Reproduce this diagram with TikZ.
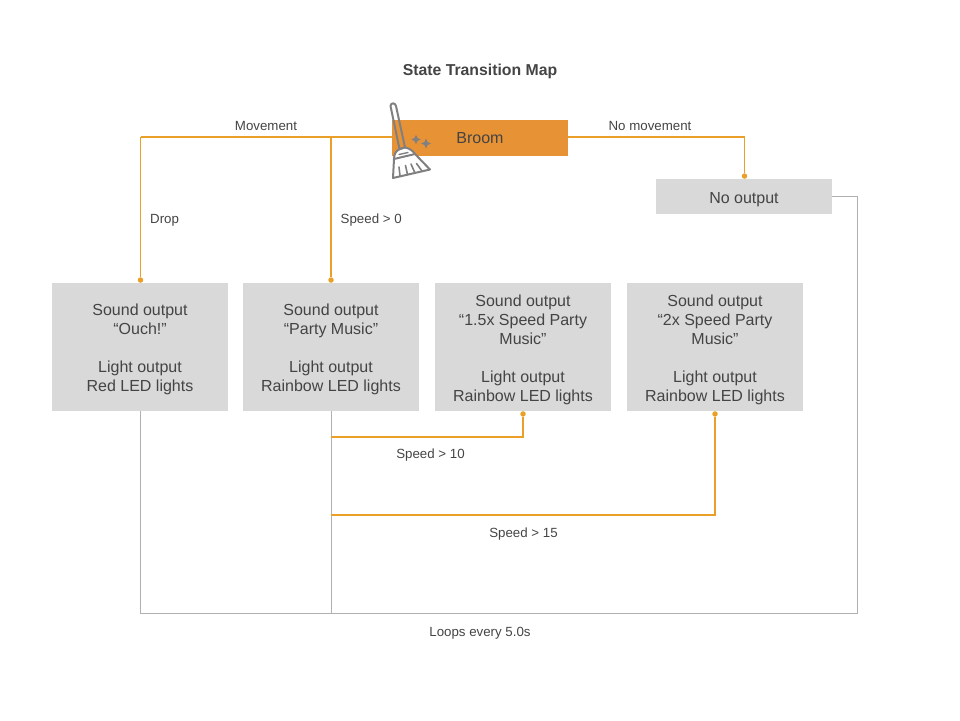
\documentclass[tikz,border=0pt]{standalone}
\usepackage{fontspec}
\setmainfont{Liberation Sans}
\usetikzlibrary{arrows.meta,calc}
\definecolor{orangeline}{HTML}{EAA028}
\definecolor{orangebox}{HTML}{E89236}
\definecolor{boxgray}{HTML}{D9D9D9}
\definecolor{linegray}{HTML}{B0B0B0}
\definecolor{textgray}{HTML}{444444}
\definecolor{broomgray}{HTML}{808080}
\newcommand{\topfix}{\rule{0pt}{16.5pt}}
\tikzset{
  statebox/.style={fill=boxgray,draw=none,minimum width=176pt,minimum height=128pt,inner sep=0pt,
    align=center,text=textgray,font=\fontsize{16}{19}\selectfont},
  smallbox/.style={statebox,minimum height=35pt},
  lbl/.style={text=textgray,font=\fontsize{13.3}{16}\selectfont,inner sep=0pt},
  orangeconn/.style={draw=orangeline,line width=1.2pt},
  grayconn/.style={draw=linegray,line width=1pt},
  dot/.style={-{Circle[length=5.5pt,width=5.5pt,fill=orangeline,line width=0pt]}},
  broomline/.style={draw=broomgray,line width=2pt,line join=round,line cap=round}
}
\begin{document}
\begin{tikzpicture}[x=1pt,y=-1pt]
\useasboundingbox (0,0) rectangle (960,720);
\node[lbl,font=\fontsize{15.8}{19}\bfseries\selectfont] (title) at (480,71) {State Transition Map};
\node[statebox,minimum height=36pt,fill=orangebox] (broom) at (480,138) {Broom};
\node[smallbox] (none) at (744,196.5) {\topfix No output};
\node[statebox] (a) at (140,347) {\topfix Sound output\\“Ouch!”\\[19pt]Light output\\Red LED lights};
\node[statebox] (b) at (331,347) {\topfix Sound output\\“Party Music”\\[19pt]Light output\\Rainbow LED lights};
\node[statebox] (c) at (523,347) {\topfix Sound output\\“1.5x Speed Party\\Music”\\[19pt]Light output\\Rainbow LED lights};
\node[statebox] (d) at (715,347) {\topfix Sound output\\“2x Speed Party\\Music”\\[19pt]Light output\\Rainbow LED lights};
\coordinate (tl) at (140.5,137);
\coordinate (tm) at (331,137);
\coordinate (tr) at (744.5,137);
\coordinate (bl) at (140.5,613.5);
\coordinate (bm) at (331,613.5);
\coordinate (br) at (857.5,613.5);
\coordinate (tg) at (857.5,196.5);
\coordinate (s1) at (331,437);
\coordinate (s2) at (331,515);
% gray loop
\draw[grayconn] (tl |- a.south) -- (bl) -- (br) -- (tg) -- (none.east |- tg);
\draw[grayconn] (b.south) -- (bm);
% orange
\draw[orangeconn] (broom.west |- tl) -- (tl);
\draw[orangeconn,dot] (tl) -- (tl |- a.north);
\draw[orangeconn,dot] (tm) -- (b.north);
\draw[orangeconn,dot] (broom.east |- tr) -- (tr) -- (tr |- none.north);
\draw[orangeconn,dot] (s1) -- (s1 -| c.south) -- (c.south);
\draw[orangeconn,dot] (s2) -- (s2 -| d.south) -- (d.south);
% labels
\node[lbl] (l1) at (266,126.3) {Movement};
\node[lbl] (l2) at (650,126.3) {No movement};
\node[lbl,anchor=west] (l3) at (150,220) {Drop};
\node[lbl,anchor=west] (l4) at (340.5,220) {Speed > 0};
\node[lbl] (l5) at (430.5,455.5) {Speed > 10};
\node[lbl] (l6) at (523.5,534.3) {Speed > 15};
\node[lbl] (l7) at (480,633) {Loops every 5.0s};
% broom icon
\draw[broomline] (390.5,106) .. controls (390.5,102.5) and (395.5,102.5) .. (396,106) -- (405,147.5) -- (399.5,149) -- cycle;
\draw[broomline,fill=white] (394,159) .. controls (394,154) and (396,151) .. (399,149.5) -- (405,147.5) .. controls (410,148.5) and (413,151) .. (415,154) -- (430,169.5) -- (393,178) -- cycle;
\draw[broomline] (394,159) -- (415,154);
\draw[broomline,line width=1.4pt] (399,154.5) -- (408,152.5);
\draw[broomline,line width=1.6pt] (400,176) -- (399,167);
\draw[broomline,line width=1.6pt] (407.5,174.5) -- (405.5,165.5);
\draw[broomline,line width=1.6pt] (415,173) -- (411,164);
\draw[broomline,line width=1.6pt] (422,171) -- (416.5,163.5);
\fill[broomgray] (416,135) -- (417.6,138) -- (420.5,139.5) -- (417.6,141) -- (416,144) -- (414.4,141) -- (411.5,139.5) -- (414.4,138) -- cycle;
\fill[broomgray] (426,138.5) -- (427.6,142) -- (431,143.5) -- (427.6,145) -- (426,148.5) -- (424.4,145) -- (421,143.5) -- (424.4,142) -- cycle;
\end{tikzpicture}
\end{document}
